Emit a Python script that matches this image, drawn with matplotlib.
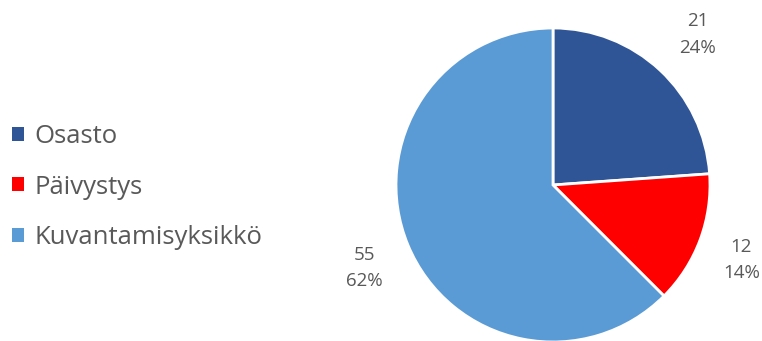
import numpy as np
import matplotlib
matplotlib.use("Agg")
import matplotlib.pyplot as plt
from matplotlib.patches import Patch

plt.rcParams["font.family"] = ["Open Sans", "DejaVu Sans"]

categories = ["Osasto", "Päivystys", "Kuvantamisyksikkö"]
values = [21, 12, 55]
colors = ["#2F5597", "#FF0000", "#5B9BD5"]
label_dist = [1.35, 1.28, 1.30]

W, H = 762, 341
fig = plt.figure(figsize=(W / 100, H / 100), dpi=100)

# pie centred at (553, 185) px with radius ~157 px
cx, cy, r = 553, 185, 157
ax = fig.add_axes([(cx - r) / W, (H - cy - r) / H, 2 * r / W, 2 * r / H])
wedges, _ = ax.pie(values, colors=colors, startangle=90, counterclock=False,
                   radius=1.0, wedgeprops=dict(edgecolor="white", linewidth=2))
ax.set_xlim(-1, 1)
ax.set_ylim(-1, 1)
ax.set_aspect("equal")
ax.axis("off")

total = sum(values)
for w, v, d in zip(wedges, values, label_dist):
    mid = np.deg2rad((w.theta1 + w.theta2) / 2)
    # data labels sit a touch lower than the pure radial position
    ax.text(d * np.cos(mid), d * np.sin(mid) - 0.03,
            f"{v}\n{v / total:.0%}",
            ha="center", va="center", fontsize=13.5, color="#595959",
            linespacing=1.6, clip_on=False)

handles = [Patch(facecolor=c, edgecolor="none") for c in colors]
fig.legend(handles, categories, loc="center left",
           bbox_to_anchor=(12 / W, (H - 187) / H), frameon=False,
           fontsize=18.5, labelcolor="#595959", handlelength=0.47,
           handleheight=0.47, handletextpad=0.4, labelspacing=1.0,
           borderpad=0, borderaxespad=0)

fig.savefig("out.png", dpi=100)
